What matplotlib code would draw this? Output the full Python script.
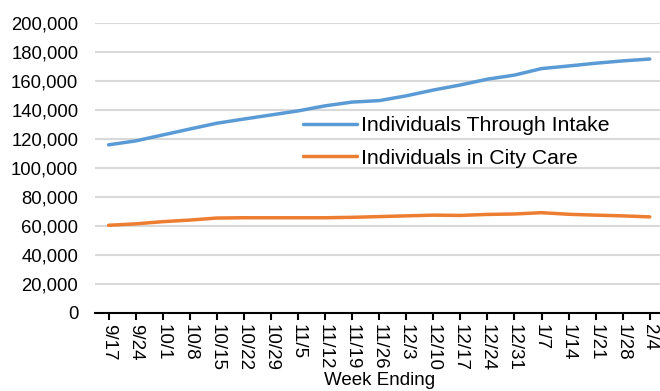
import matplotlib
matplotlib.use("Agg")
import matplotlib.pyplot as plt
from matplotlib.ticker import FuncFormatter

plt.rcParams["font.family"] = ["Liberation Sans", "DejaVu Sans"]

weeks = ["9/17", "9/24", "10/1", "10/8", "10/15", "10/22", "10/29", "11/5",
         "11/12", "11/19", "11/26", "12/3", "12/10", "12/17", "12/24", "12/31",
         "1/7", "1/14", "1/21", "1/28", "2/4"]
through_intake = [116000, 118700, 122800, 126900, 130900, 133800, 136600, 139400,
                  142900, 145500, 146500, 149800, 153800, 157300, 161300, 164100,
                  168600, 170400, 172300, 173900, 175200]
in_city_care = [60500, 61500, 63000, 64100, 65500, 65700, 65700, 65700,
                65700, 66000, 66500, 67000, 67500, 67300, 68000, 68300,
                69200, 68100, 67500, 67000, 66300]

fig = plt.figure(figsize=(6.6, 3.91), dpi=100)
ax = fig.add_axes([0.144, 0.1995, 0.861, 0.7415])

x = range(len(weeks))
ax.plot(x, through_intake, color="#5B9BD5", lw=2.5, label="Individuals Through Intake",
        solid_capstyle="round")
ax.plot(x, in_city_care, color="#ED7D31", lw=2.5, label="Individuals in City Care",
        solid_capstyle="round")

ax.set_xlim(-0.5, len(weeks) - 0.5)
ax.set_ylim(0, 200000)
ax.set_yticks(range(0, 200001, 20000))
ax.yaxis.set_major_formatter(FuncFormatter(lambda v, p: f"{int(v):,}"))
ax.set_xticks(list(x))
ax.set_xticklabels(weeks, rotation=270, fontsize=13.5)
ax.tick_params(axis="y", length=0, pad=12, labelsize=13.3)
ax.tick_params(axis="x", length=5, width=1.5, color="black", pad=3)

ax.grid(axis="y", color="#D9D9D9", lw=1.5)
ax.set_axisbelow(True)
for side in ["left", "top", "right"]:
    ax.spines[side].set_visible(False)
ax.spines["bottom"].set_linewidth(1.5)

fig.text(0.575, 0.016, "Week Ending", ha="center", va="baseline", fontsize=13.5)

ax.legend(loc="upper left", bbox_to_anchor=(303 / 660, 1 - 116 / 391),
          bbox_transform=fig.transFigure, frameon=False, fontsize=15.3,
          handlelength=2.55, handletextpad=0.19, borderpad=0, borderaxespad=0,
          labelspacing=0.64)

fig.savefig("out.png", dpi=100)
